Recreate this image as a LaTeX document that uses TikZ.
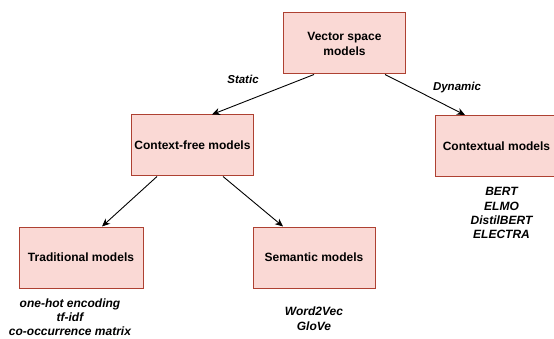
\documentclass[tikz,border=0pt]{standalone}
\usepackage{fontspec}
\setmainfont{Liberation Sans}
\usepackage{xcolor}
\usetikzlibrary{arrows.meta,positioning}
\definecolor{boxfill}{HTML}{FAD9D5}
\definecolor{boxline}{HTML}{AE4132}
\tikzset{
  model/.style={draw=boxline, fill=boxfill, line width=1pt, align=center, minimum width=122pt, minimum height=61pt, inner sep=2pt, font=\bfseries\fontsize{12}{15}\selectfont},
  examples/.style={align=center, inner sep=0pt, font=\bfseries\itshape\fontsize{12}{14.3}\selectfont},
  edgelabel/.style={font=\bfseries\itshape\fontsize{11.5}{12}\selectfont},
  line/.style={-{Stealth[length=8pt,width=7pt,inset=2.5pt]}, line width=0.9pt}
}
\begin{document}
\begin{tikzpicture}[x=1pt, y=-1pt, node distance=6pt]
  \clip (0,0) rectangle (554,339);
  \node[model] (vsm) at (344.5,43.5) {Vector space\\models};
  \node[model] (cfree) at (192.5,145.5) {Context-free models};
  \node[model] (ctx) at (496.5,146) {Contextual models};
  \node[model, minimum width=124pt] (trad) at (81,257.5) {Traditional models};
  \node[model] (sem) at (314,257.5) {Semantic models};
  \node[examples, below=10.5pt of ctx, xshift=5pt] (ctxlist) {BERT\\ELMO\\DistilBERT\\ELECTRA};
  \node[examples, below=10pt of trad, xshift=-11pt] (tradlist) {one-hot encoding\\tf-idf\\co-occurrence matrix};
  \node[examples, below=18.5pt of sem] (semlist) {Word2Vec\\GloVe};
  \draw[line] ([xshift=-30.5pt]vsm.south) -- ([xshift=19.5pt]cfree.north);
  \draw[line] ([xshift=40.5pt]vsm.south) -- ([xshift=-31.5pt]ctx.north);
  \draw[line] ([xshift=-35.5pt]cfree.south) -- ([xshift=21pt]trad.north);
  \draw[line] ([xshift=30.5pt]cfree.south) -- ([xshift=-31pt]sem.north);
  \node[edgelabel] (stat) at (243,79) {Static};
  \node[edgelabel] (dyn) at (457,88) {Dynamic};
\end{tikzpicture}
\end{document}
